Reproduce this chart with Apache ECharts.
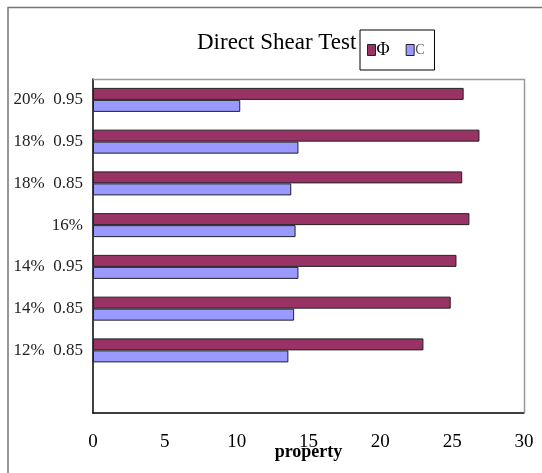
<!DOCTYPE html>
<html>
<head>
<meta charset="utf-8">
<script src="https://cdn.jsdelivr.net/npm/echarts@6/dist/echarts.min.js"></script>
<style>
  html, body { margin: 0; padding: 0; background: #fff; }
  #grafica { width: 542px; height: 473px; }
</style>
</head>
<body>
<div id="grafica"></div>
<script>
// categorias (de abajo hacia arriba, la primera vacia)
var categorias = ['', '12%  0.85', '14%  0.85', '14%  0.95', '16%', '18%  0.85', '18%  0.95', '20%  0.95'];
var valoresPhi = [null, 23.0, 24.9, 25.3, 26.2, 25.7, 26.9, 25.8];
var valoresC = [null, 13.6, 14.0, 14.3, 14.1, 13.8, 14.3, 10.25];
var ticksX = [0, 5, 10, 15, 20, 25, 30];

var fuente = '"Liberation Serif", "DejaVu Serif", serif';

var grafico = echarts.init(document.getElementById('grafica'));

var option = {
    animation: false,
    backgroundColor: '#fff',
    title: {
        text: 'Direct Shear Test',
        left: 192,
        top: 26,
        textStyle: { fontFamily: fuente, fontWeight: 'normal', fontSize: 23, color: '#000' }
    },
    legend: {
        left: 360,
        top: 30,
        padding: [11, 10, 11, 7],
        borderColor: '#000',
        borderWidth: 1,
        icon: 'rect',
        itemWidth: 8,
        itemHeight: 11,
        itemGap: 16,
        textStyle: { fontFamily: fuente, fontSize: 18, color: '#000', padding: [0, 0, 0, -4] },
        data: [
            { name: 'Φ', itemStyle: { borderColor: '#222', borderWidth: 1 } },
            { name: 'C', itemStyle: { borderColor: '#222', borderWidth: 1 }, textStyle: { color: '#555', fontSize: 14 } }
        ]
    },
    graphic: [
        {
            type: 'polyline',
            shape: { points: [[8, 473], [8, 7.5], [542, 7.5]] },
            style: { stroke: '#777', lineWidth: 1.5, fill: null }
        },
        {
            type: 'polyline',
            shape: { points: [[93, 79.5], [524.5, 79.5], [524.5, 413]] },
            style: { stroke: '#999', lineWidth: 1.5, fill: null },
            z: 10
        }
    ],
    grid: { left: 93, right: 18, top: 79, bottom: 60, outerBoundsMode: 'none', containLabel: false },
    xAxis: {
        type: 'value',
        min: ticksX[0],
        max: ticksX[ticksX.length - 1],
        interval: 5,
        name: 'property',
        nameLocation: 'middle',
        nameGap: 30,
        nameMoveOverlap: false,
        nameTextStyle: { fontFamily: fuente, fontSize: 18, color: '#000', fontWeight: 'bold' },
        splitLine: { show: false },
        axisTick: { show: false },
        axisLine: { show: true, lineStyle: { color: '#000', width: 1.5 } },
        axisLabel: { fontFamily: fuente, fontSize: 19, color: '#000', margin: 20 }
    },
    yAxis: {
        type: 'category',
        data: categorias,
        axisTick: { show: false },
        axisLine: { show: true, lineStyle: { color: '#000', width: 1.5 } },
        axisLabel: { fontFamily: fuente, fontSize: 17, color: '#222', margin: 10 }
    },
    series: [
        {
            name: 'Φ',
            type: 'bar',
            data: valoresPhi,
            barWidth: 12,
            barGap: '0%',
            itemStyle: { color: '#993366', borderColor: '#222', borderWidth: 1 }
        },
        {
            name: 'C',
            type: 'bar',
            data: valoresC,
            barWidth: 12,
            barGap: '0%',
            itemStyle: { color: '#9999ff', borderColor: '#222', borderWidth: 1 }
        }
    ]
};

option && grafico.setOption(option, true);
</script>
</body>
</html>
